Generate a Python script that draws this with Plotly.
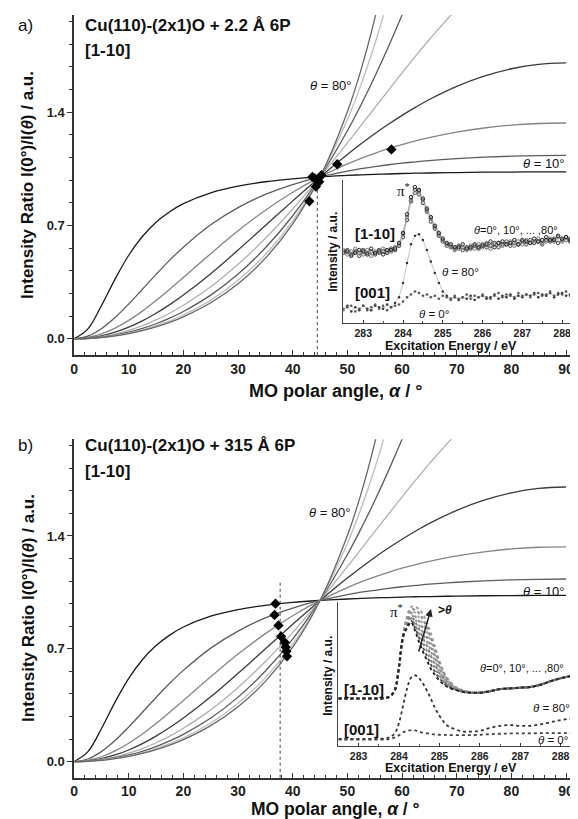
import plotly.graph_objects as go

# window is 578x819; the page body has an 8 px margin, so the figure itself is 570x811
WIN_W, WIN_H = 578, 819
OFF = 8
W, H = WIN_W - OFF, WIN_H - OFF
FONT = "Liberation Sans"

# ---------------- data: model curves I(0)/I(theta) vs MO polar angle ----------------
alpha = [0, 2.5, 5, 7.5, 10, 12.5, 15, 17.5, 20, 25, 30, 35, 40, 45, 50, 52.5, 55,
         57.5, 60, 62.5, 65, 70, 75, 80, 85, 90]
theta_list = [10, 20, 30, 40, 50, 60, 70, 80]
ratio_t10 = [0, 0.060, 0.204, 0.369, 0.516, 0.632, 0.720, 0.785, 0.835, 0.902, 0.943, 0.970, 0.988,
             1.000, 1.009, 1.013, 1.016, 1.018, 1.021, 1.023, 1.024, 1.027, 1.029, 1.030, 1.031, 1.031]
ratio_t20 = [0, 0.016, 0.062, 0.131, 0.215, 0.306, 0.398, 0.486, 0.566, 0.704, 0.810, 0.892, 0.953,
             1.000, 1.036, 1.051, 1.063, 1.075, 1.085, 1.093, 1.101, 1.113, 1.122, 1.128, 1.131, 1.133]
ratio_t30 = [0, 0.008, 0.030, 0.066, 0.114, 0.171, 0.236, 0.306, 0.379, 0.526, 0.667, 0.794, 0.905,
             1.000, 1.080, 1.115, 1.146, 1.174, 1.200, 1.223, 1.243, 1.277, 1.302, 1.320, 1.330, 1.333]
ratio_t40 = [0, 0.005, 0.018, 0.041, 0.072, 0.111, 0.158, 0.211, 0.270, 0.402, 0.548, 0.700, 0.852,
             1.000, 1.139, 1.205, 1.267, 1.325, 1.380, 1.431, 1.478, 1.559, 1.622, 1.668, 1.695, 1.704]
ratio_t50 = [0, 0.003, 0.013, 0.029, 0.052, 0.081, 0.117, 0.158, 0.207, 0.321, 0.460, 0.621, 0.802,
             1.000, 1.210, 1.318, 1.427, 1.535, 1.643, 1.748, 1.849, 2.037, 2.196, 2.318, 2.394, 2.420]
ratio_t60 = [0, 0.003, 0.010, 0.023, 0.041, 0.064, 0.093, 0.128, 0.169, 0.270, 0.400, 0.562, 0.760,
             1.000, 1.285, 1.446, 1.619, 1.804, 2.000, 2.206, 2.421, None, None, None, None, None]
ratio_t70 = [0, 0.002, 0.009, 0.020, 0.035, 0.055, 0.081, 0.111, 0.147, 0.239, 0.362, 0.521, 0.729,
             1.000, 1.354, 1.570, 1.819, 2.104, 2.431, 2.807, None, None, None, None, None, None]
ratio_t80 = [0, 0.002, 0.008, 0.018, 0.032, 0.051, 0.074, 0.102, 0.136, 0.223, 0.340, 0.498, 0.710,
             1.000, 1.403, 1.663, 1.978, 2.360, 2.829, None, None, None, None, None, None, None]
ratios = [ratio_t10, ratio_t20, ratio_t30, ratio_t40, ratio_t50, ratio_t60, ratio_t70, ratio_t80]
curve_colors = ["#1a1a1a", "#5c5c5c", "#858585", "#3a3a3a", "#b0b0b0", "#5a5a5a", "#bdbdbd", "#666666"]

# measured points (diamonds) and the mean angle (dashed line)
meas_a_alpha = [44.05, 43.6, 58.05, 48.14, 45.26, 44.83, 44.23, 43.03]
meas_a_ratio = [0.99, 1.00, 1.17, 1.078, 1.01, 0.97, 0.94, 0.85]
mean_a_alpha = 44.5
meas_b_alpha = [36.85, 36.67, 37.39, 37.87, 38.52, 38.70, 38.83, 38.95]
meas_b_ratio = [0.98, 0.91, 0.845, 0.777, 0.74, 0.71, 0.684, 0.653]
mean_b_alpha = 37.7

# ---------------- data: NEXAFS insets ----------------
energy_a = [282.5, 282.6, 282.7, 282.8, 282.9, 283.0, 283.1, 283.2, 283.3, 283.4, 283.5, 283.6, 283.7,
            283.8, 283.9, 284.0, 284.1, 284.2, 284.3, 284.4, 284.5, 284.6, 284.7, 284.8, 284.9, 285.0,
            285.1, 285.2, 285.3, 285.4, 285.5, 285.6, 285.7, 285.8, 285.9, 286.0, 286.1, 286.2, 286.3,
            286.4, 286.5, 286.6, 286.7, 286.8, 286.9, 287.0, 287.1, 287.2, 287.3, 287.4, 287.5, 287.6,
            287.7, 287.8, 287.9, 288.0, 288.1, 288.2, 288.3, 288.4, 288.5]
a110_1 = [0.49, 0.51, 0.48, 0.50, 0.47, 0.51, 0.49, 0.50, 0.48, 0.51, 0.50, 0.49, 0.52, 0.51, 0.54, 0.60,
          0.72, 0.85, 0.93, 0.90, 0.84, 0.78, 0.71, 0.66, 0.61, 0.57, 0.55, 0.53, 0.52, 0.54, 0.51, 0.53,
          0.52, 0.54, 0.52, 0.55, 0.53, 0.54, 0.56, 0.53, 0.55, 0.57, 0.54, 0.56, 0.55, 0.57, 0.55, 0.58,
          0.56, 0.57, 0.55, 0.58, 0.57, 0.59, 0.56, 0.58, 0.60, 0.57, 0.59, 0.58, 0.60]
a110_2 = [0.51, 0.48, 0.50, 0.52, 0.49, 0.48, 0.51, 0.47, 0.50, 0.49, 0.52, 0.50, 0.50, 0.53, 0.55, 0.62,
          0.74, 0.86, 0.91, 0.92, 0.86, 0.79, 0.73, 0.67, 0.62, 0.58, 0.54, 0.54, 0.51, 0.52, 0.53, 0.51,
          0.54, 0.52, 0.55, 0.53, 0.56, 0.52, 0.55, 0.56, 0.54, 0.55, 0.57, 0.54, 0.57, 0.55, 0.58, 0.56,
          0.57, 0.59, 0.56, 0.57, 0.59, 0.57, 0.60, 0.57, 0.58, 0.59, 0.61, 0.57, 0.59]
a110_3 = [0.50, 0.50, 0.47, 0.49, 0.51, 0.50, 0.48, 0.52, 0.49, 0.50, 0.48, 0.51, 0.51, 0.52, 0.56, 0.63,
          0.76, 0.88, 0.95, 0.93, 0.87, 0.80, 0.74, 0.68, 0.63, 0.59, 0.56, 0.55, 0.53, 0.53, 0.55, 0.52,
          0.53, 0.55, 0.53, 0.54, 0.55, 0.57, 0.53, 0.56, 0.57, 0.55, 0.56, 0.58, 0.55, 0.58, 0.57, 0.56,
          0.59, 0.57, 0.58, 0.60, 0.58, 0.58, 0.61, 0.59, 0.60, 0.58, 0.60, 0.61, 0.59]
a001_t80 = [0.10, 0.12, 0.08, 0.11, 0.09, 0.12, 0.10, 0.09, 0.12, 0.11, 0.10, 0.13, 0.11, 0.14, 0.18, 0.28,
            0.42, 0.55, 0.61, 0.62, 0.58, 0.51, 0.43, 0.35, 0.28, 0.22, 0.19, 0.17, 0.18, 0.16, 0.18, 0.17,
            0.19, 0.16, 0.18, 0.19, 0.17, 0.18, 0.20, 0.17, 0.19, 0.18, 0.20, 0.17, 0.19, 0.18, 0.20, 0.19,
            0.21, 0.18, 0.20, 0.19, 0.21, 0.18, 0.20, 0.21, 0.19, 0.20, 0.22, 0.19, 0.21]
a001_t0 = [0.09, 0.11, 0.12, 0.08, 0.10, 0.12, 0.09, 0.11, 0.13, 0.10, 0.12, 0.09, 0.11, 0.12, 0.13, 0.15,
           0.18, 0.20, 0.22, 0.21, 0.19, 0.20, 0.18, 0.19, 0.17, 0.19, 0.18, 0.16, 0.19, 0.17, 0.18, 0.20,
           0.17, 0.19, 0.18, 0.20, 0.18, 0.17, 0.19, 0.21, 0.18, 0.20, 0.19, 0.18, 0.21, 0.19, 0.20, 0.18,
           0.20, 0.21, 0.19, 0.20, 0.22, 0.19, 0.21, 0.20, 0.22, 0.19, 0.21, 0.22, 0.20]

energy_b = [282.5, 282.75, 283.0, 283.25, 283.5, 283.7, 283.8, 283.9, 284.0, 284.1, 284.2, 284.3, 284.4,
            284.5, 284.6, 284.7, 284.8, 284.9, 285.0, 285.1, 285.2, 285.4, 285.6, 285.8, 286.0, 286.25,
            286.5, 286.75, 287.0, 287.25, 287.5, 287.75, 288.0, 288.25, 288.5]
b110_t0 = [0.33, 0.33, 0.33, 0.33, 0.33, 0.335, 0.35, 0.39, 0.55, 0.76, 0.82, 0.86, 0.80, 0.72, 0.65, 0.59,
           0.53, 0.49, 0.455, 0.43, 0.41, 0.39, 0.375, 0.37, 0.37, 0.38, 0.395, 0.40, 0.405, 0.41, 0.425,
           0.45, 0.47, 0.485, 0.49]
b110_t10 = [0.33, 0.33, 0.33, 0.33, 0.33, 0.335, 0.35, 0.39, 0.55, 0.76, 0.83, 0.87, 0.82, 0.75, 0.68, 0.62,
            0.56, 0.51, 0.47, 0.44, 0.415, 0.39, 0.375, 0.37, 0.37, 0.38, 0.395, 0.40, 0.405, 0.41, 0.425,
            0.45, 0.47, 0.485, 0.49]
b110_t20 = [0.33, 0.33, 0.33, 0.33, 0.33, 0.335, 0.35, 0.39, 0.55, 0.76, 0.84, 0.885, 0.84, 0.78, 0.715,
            0.655, 0.59, 0.535, 0.49, 0.45, 0.425, 0.395, 0.375, 0.37, 0.37, 0.38, 0.395, 0.40, 0.405, 0.41,
            0.425, 0.45, 0.47, 0.485, 0.49]
b110_t30 = [0.33, 0.33, 0.33, 0.33, 0.33, 0.335, 0.35, 0.39, 0.55, 0.76, 0.85, 0.90, 0.86, 0.81, 0.745, 0.69,
            0.62, 0.56, 0.505, 0.465, 0.43, 0.395, 0.38, 0.37, 0.37, 0.38, 0.395, 0.40, 0.405, 0.41, 0.425,
            0.45, 0.47, 0.485, 0.49]
b110_t40 = [0.33, 0.33, 0.33, 0.33, 0.33, 0.335, 0.35, 0.39, 0.55, 0.76, 0.86, 0.91, 0.88, 0.835, 0.78, 0.72,
            0.65, 0.585, 0.52, 0.475, 0.44, 0.40, 0.38, 0.37, 0.37, 0.38, 0.395, 0.40, 0.405, 0.41, 0.425,
            0.45, 0.47, 0.485, 0.49]
b110_t50 = [0.33, 0.33, 0.33, 0.33, 0.33, 0.335, 0.35, 0.39, 0.55, 0.76, 0.87, 0.925, 0.90, 0.865, 0.81, 0.75,
            0.68, 0.61, 0.54, 0.485, 0.445, 0.40, 0.38, 0.37, 0.37, 0.38, 0.395, 0.40, 0.405, 0.41, 0.425,
            0.45, 0.47, 0.485, 0.49]
b110_t60 = [0.33, 0.33, 0.33, 0.33, 0.33, 0.335, 0.35, 0.39, 0.55, 0.76, 0.88, 0.94, 0.925, 0.89, 0.845,
            0.785, 0.71, 0.63, 0.555, 0.50, 0.455, 0.405, 0.38, 0.37, 0.37, 0.38, 0.395, 0.40, 0.405, 0.41,
            0.425, 0.45, 0.47, 0.485, 0.49]
b110_t70 = [0.33, 0.33, 0.33, 0.33, 0.33, 0.335, 0.35, 0.39, 0.55, 0.76, 0.89, 0.95, 0.945, 0.92, 0.875,
            0.815, 0.74, 0.655, 0.575, 0.51, 0.46, 0.405, 0.385, 0.37, 0.37, 0.38, 0.395, 0.40, 0.405, 0.41,
            0.425, 0.45, 0.47, 0.485, 0.49]
b110_t80 = [0.33, 0.33, 0.33, 0.33, 0.33, 0.335, 0.35, 0.39, 0.55, 0.76, 0.90, 0.965, 0.965, 0.95, 0.91,
            0.85, 0.77, 0.68, 0.59, 0.52, 0.47, 0.41, 0.385, 0.37, 0.37, 0.38, 0.395, 0.40, 0.405, 0.41,
            0.425, 0.45, 0.47, 0.485, 0.49]
b110_all = [b110_t80, b110_t70, b110_t60, b110_t50, b110_t40, b110_t30, b110_t20, b110_t10, b110_t0]
b110_colors = ["#9a9a9a", "#8a8a8a", "#a5a5a5", "#909090", "#9a9a9a", "#808080", "#8a8a8a", "#555555", "#222222"]
b001_t80 = [0.05, 0.05, 0.05, 0.05, 0.05, 0.055, 0.065, 0.09, 0.16, 0.28, 0.40, 0.475, 0.49, 0.47, 0.43,
            0.38, 0.32, 0.26, 0.21, 0.17, 0.14, 0.115, 0.10, 0.10, 0.105, 0.125, 0.14, 0.145, 0.14, 0.14,
            0.15, 0.165, 0.18, 0.19, 0.195]
b001_t0 = [0.045, 0.045, 0.045, 0.045, 0.045, 0.046, 0.05, 0.06, 0.075, 0.095, 0.105, 0.11, 0.108, 0.10,
           0.092, 0.087, 0.083, 0.08, 0.078, 0.077, 0.076, 0.075, 0.075, 0.076, 0.078, 0.082, 0.085, 0.087,
           0.088, 0.088, 0.089, 0.09, 0.09, 0.09, 0.09]


# ---------------- layout geometry (window pixels -> paper) ----------------
def px_x(p):
    return min(1.0, max(0.0, (p - OFF) / W))


def px_y(p):
    return min(1.0, max(0.0, 1 - (p - OFF) / H))


fig = go.Figure()

main_axes = [("x", "y"), ("x2", "y2")]
for (xa, ya) in main_axes:
    for vals, col in zip(ratios, curve_colors):
        fig.add_trace(go.Scatter(x=alpha, y=vals, xaxis=xa, yaxis=ya, mode="lines",
                                 line=dict(color=col, width=1.3, shape="spline"),
                                 connectgaps=False, hoverinfo="skip"))

# dashed lines + diamonds
fig.add_trace(go.Scatter(x=[mean_a_alpha, mean_a_alpha], y=[-0.1, 0.95], xaxis="x", yaxis="y",
                         mode="lines", line=dict(color="#555", width=1.1, dash="3px,3px")))
fig.add_trace(go.Scatter(x=meas_a_alpha, y=meas_a_ratio, xaxis="x", yaxis="y", mode="markers",
                         marker=dict(symbol="diamond", size=8, color="black")))
fig.add_trace(go.Scatter(x=[mean_b_alpha, mean_b_alpha], y=[-0.1, 1.11], xaxis="x2", yaxis="y2",
                         mode="lines", line=dict(color="#555", width=1.1, dash="3px,3px")))
fig.add_trace(go.Scatter(x=meas_b_alpha, y=meas_b_ratio, xaxis="x2", yaxis="y2", mode="markers",
                         marker=dict(symbol="diamond", size=8, color="black")))

# inset a (noisy spectra)
for vals, col in zip([a110_1, a110_2, a110_3], ["#444", "#777", "#222"]):
    fig.add_trace(go.Scatter(x=energy_a, y=vals, xaxis="x3", yaxis="y3", mode="lines+markers",
                             line=dict(color="#999", width=0.6),
                             marker=dict(symbol="circle-open", size=3.5, color=col, line=dict(width=1))))
fig.add_trace(go.Scatter(x=energy_a, y=a001_t80, xaxis="x3", yaxis="y3", mode="lines+markers",
                         line=dict(color="#aaa", width=0.7),
                         marker=dict(symbol="circle", size=2.5, color="#333")))
fig.add_trace(go.Scatter(x=energy_a, y=a001_t0, xaxis="x3", yaxis="y3", mode="lines+markers",
                         line=dict(color="#bbb", width=0.6),
                         marker=dict(symbol="circle", size=2.5, color="#555")))

# inset b (smooth spectra, densely sampled look)
for vals, col in zip(b110_all, b110_colors):
    fig.add_trace(go.Scatter(x=energy_b, y=vals, xaxis="x4", yaxis="y4", mode="lines",
                             line=dict(color=col, width=2.0, dash="dot", shape="spline")))
fig.add_trace(go.Scatter(x=energy_b, y=b001_t80, xaxis="x4", yaxis="y4", mode="lines",
                         line=dict(color="#333", width=1.8, dash="dot", shape="spline")))
fig.add_trace(go.Scatter(x=energy_b, y=b001_t0, xaxis="x4", yaxis="y4", mode="lines",
                         line=dict(color="#444", width=1.8, dash="dot", shape="spline")))

tickfont_main = dict(family=FONT, size=14, color="#222", weight="bold")
main_x = dict(range=[0, 92.0], tick0=0, dtick=10, ticks="inside", ticklen=5, tickwidth=1.2,
              tickcolor="#333", showline=True, linecolor="#333", linewidth=1.5, showgrid=False,
              zeroline=False, tickfont=tickfont_main, ticklabeloverflow="allow",
              minor=dict(dtick=2, tick0=0, ticks="inside", ticklen=3, tickcolor="#333"))
main_y = dict(range=[-0.1, 2.0], tick0=0, dtick=0.7, tickformat=".1f", ticks="outside", ticklen=5,
              tickwidth=1.2, tickcolor="#333", showline=True, linecolor="#333", linewidth=1.5,
              showgrid=False, zeroline=False, tickfont=dict(family=FONT, size=13, color="#222", weight="bold"),
              minor=dict(dtick=0.14, tick0=0, ticks="outside", ticklen=3, tickcolor="#333"))
inset_x = dict(tick0=283, dtick=1, ticks="inside", ticklen=3, tickcolor="#333", showline=True,
               linecolor="#444", linewidth=1.2, showgrid=False, zeroline=False, ticklabeloverflow="allow",
               tickfont=dict(family=FONT, size=10.5, color="#222", weight="bold"),
               minor=dict(dtick=0.5, ticks="inside", ticklen=2, tickcolor="#555"))
inset_y = dict(range=[0, 1], showticklabels=False, ticks="", showline=True, linecolor="#444",
               linewidth=1.2, showgrid=False, zeroline=False)

fig.update_layout(
    width=W, height=H, margin=dict(l=0, r=0, t=0, b=0),
    paper_bgcolor="white", plot_bgcolor="white", showlegend=False,
    xaxis=dict(domain=[px_x(70.5), px_x(577)], anchor="y", **main_x),
    yaxis=dict(domain=[px_y(355), px_y(15)], anchor="x", **main_y),
    xaxis2=dict(domain=[px_x(70.5), px_x(577)], anchor="y2", **main_x),
    yaxis2=dict(domain=[px_y(777.7), px_y(439.3)], anchor="x2", **main_y),
    xaxis3=dict(domain=[px_x(341.7), 1.0], anchor="y3", range=[282.5, 288.4], **inset_x),
    yaxis3=dict(domain=[px_y(323), px_y(180)], anchor="x3", **inset_y),
    xaxis4=dict(domain=[px_x(336.7), 1.0], anchor="y4", range=[282.5, 288.43], **inset_x),
    yaxis4=dict(domain=[px_y(746), px_y(602)], anchor="x4", **inset_y),
)


def ann(text, x, y, size=13, bold=False, xanchor="center", angle=0, family=FONT, color="#111"):
    return dict(text=text, x=px_x(x), y=px_y(y), xref="paper", yref="paper", showarrow=False,
                xanchor=xanchor, yanchor="middle", textangle=angle,
                font=dict(family=family, size=size, color=color, weight="bold" if bold else "normal"))


annotations = [
    # panel a
    ann("a)", 22, 25, size=17),
    ann("Cu(110)-(2x1)O + 2.2 Å 6P", 80, 25, size=17, bold=True, xanchor="left"),
    ann("[1-10]", 80, 50, size=17, bold=True, xanchor="left"),
    ann("<i>θ</i> = 80°", 329, 85, size=13),
    ann("<i>θ</i> = 10°", 544, 163, size=13),
    ann("Intensity Ratio I(0°)/I(<i>θ</i>) / a.u.", 24, 185, size=17, bold=True, angle=-90),
    ann("MO polar angle, <i>α</i> / °", 334, 391, size=18, bold=True),
    ann("π<sup>*</sup>", 402, 190, size=15, family="Liberation Serif"),
    ann("[1-10]", 374, 233, size=15, bold=True),
    ann("<i>θ</i>=0°, 10°, ... ,80°", 516, 230, size=11),
    ann("<i>θ</i> = 80°", 460, 272, size=11.5),
    ann("[001]", 371, 292, size=15, bold=True),
    ann("<i>θ</i> = 0°", 433, 314, size=11.5),
    ann("Intensity / a.u.", 331, 252, size=12, bold=True, angle=-90),
    ann("Excitation Energy / eV", 450, 346, size=12.5, bold=True),
    # panel b
    ann("b)", 22, 445, size=17),
    ann("Cu(110)-(2x1)O + 315 Å 6P", 80, 445, size=17, bold=True, xanchor="left"),
    ann("[1-10]", 80, 471, size=17, bold=True, xanchor="left"),
    ann("<i>θ</i> = 80°", 328, 513, size=13),
    ann("<i>θ</i> = 10°", 544, 591, size=13),
    ann("Intensity Ratio I(0°)/I(<i>θ</i>) / a.u.", 24, 608, size=17, bold=True, angle=-90),
    ann("MO polar angle, <i>α</i> / °", 334, 809, size=17.5, bold=True),
    ann("π<sup>*</sup>", 395, 611, size=15, family="Liberation Serif"),
    ann("><i>θ</i>", 444, 610, size=12, bold=True),
    ann("[1-10]", 362, 689, size=15, bold=True),
    ann("<i>θ</i>=0°, 10°, ... ,80°", 522, 668, size=11),
    ann("<i>θ</i> = 80°", 551, 708, size=11.5),
    ann("[001]", 360, 729, size=15, bold=True),
    ann("<i>θ</i> = 0°", 553, 740, size=11.5),
    ann("Intensity / a.u.", 326, 676, size=12, bold=True, angle=-90),
    ann("Excitation Energy / eV", 450, 768, size=12.5, bold=True),
    dict(text="", x=px_x(430), y=px_y(609), xref="paper", yref="paper", showarrow=True,
         ax=-12.7, ay=44, arrowhead=2, arrowsize=1, arrowwidth=1.5, arrowcolor="#222"),
]
fig.update_layout(annotations=annotations)

fig.write_html("out.html")
